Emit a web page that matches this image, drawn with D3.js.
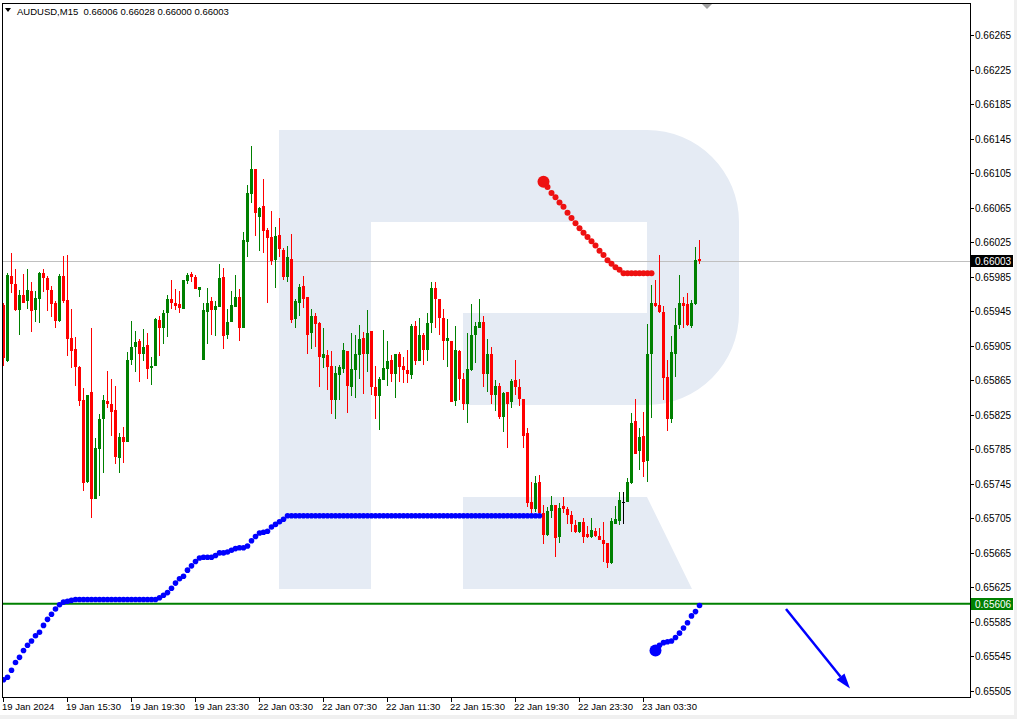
<!DOCTYPE html>
<html><head><meta charset="utf-8">
<script src="https://cdn.jsdelivr.net/npm/d3@7"></script>
<style>
body{margin:0;background:#fff;overflow:hidden}
svg text{font-family:"Liberation Sans",Arial,sans-serif}
</style>
</head><body>
<svg id="chart" width="1017" height="719"></svg>
<script>
// ---------- DATA ----------
const symbolTitle = "AUDUSD,M15";
const lastOHLC = [0.66006, 0.66028, 0.66000, 0.66003];
const timeLabels = ["19 Jan 2024","19 Jan 15:30","19 Jan 19:30","19 Jan 23:30","22 Jan 03:30","22 Jan 07:30","22 Jan 11:30","22 Jan 15:30","22 Jan 19:30","22 Jan 23:30","23 Jan 03:30"];
const timeLabelBars = [0,16,32,48,64,80,96,112,128,144,160];
const priceTicks = [0.65505,0.65545,0.65585,0.65625,0.65665,0.65705,0.65745,0.65785,0.65825,0.65865,0.65905,0.65945,0.65985,0.66025,0.66065,0.66105,0.66145,0.66185,0.66225,0.66265];

const opens = [0.65952,0.65887,0.65986,0.65976,0.65946,0.65964,0.65957,0.65968,0.65946,0.65959,
0.65989,0.65983,0.65969,0.65955,0.65934,0.65986,0.65958,0.65914,0.65901,0.65880,
0.65842,0.65747,0.65851,0.65728,0.65785,0.65820,0.65841,0.65838,0.65830,0.65775,
0.65799,0.65794,0.65888,0.65903,0.65910,0.65896,0.65906,0.65879,0.65881,0.65935,
0.65925,0.65943,0.65959,0.65954,0.65953,0.65947,0.65980,0.65988,0.65985,0.65969,
0.65889,0.65944,0.65957,0.65946,0.65950,0.65985,0.65917,0.65932,0.65950,0.65961,
0.65925,0.66025,0.66081,0.66110,0.66054,0.66067,0.66039,0.66031,0.66004,0.66033,
0.66016,0.65985,0.66006,0.65936,0.65955,0.65974,0.65961,0.65920,0.65939,0.65931,
0.65891,0.65894,0.65881,0.65842,0.65871,0.65878,0.65899,0.65857,0.65877,0.65894,
0.65914,0.65895,0.65922,0.65857,0.65847,0.65865,0.65878,0.65888,0.65872,0.65896,
0.65881,0.65877,0.65871,0.65928,0.65887,0.65917,0.65900,0.65931,0.65972,0.65959,
0.65937,0.65910,0.65911,0.65841,0.65899,0.65866,0.65838,0.65877,0.65918,0.65925,
0.65932,0.65872,0.65896,0.65848,0.65858,0.65823,0.65851,0.65840,0.65865,0.65857,
0.65843,0.65804,0.65724,0.65716,0.65747,0.65711,0.65686,0.65713,0.65720,0.65683,
0.65719,0.65716,0.65709,0.65697,0.65689,0.65701,0.65687,0.65683,0.65690,0.65684,
0.65680,0.65677,0.65653,0.65699,0.65702,0.65724,0.65724,0.65746,0.65818,0.65783,
0.65800,0.65771,0.65896,0.65955,0.65952,0.65944,0.65869,0.65820,0.65896,0.65929,
0.65954,0.65953,0.65928,0.65953,0.66006];
const highs = [0.65954,0.65989,0.66012,0.65994,0.65969,0.65988,0.65994,0.65979,0.65968,0.65990,
0.65994,0.65986,0.65974,0.65957,0.65988,0.66009,0.66010,0.65947,0.65915,0.65881,
0.65856,0.65848,0.65926,0.65798,0.65826,0.65848,0.65876,0.65866,0.65858,0.65804,
0.65811,0.65898,0.65934,0.65922,0.65913,0.65924,0.65920,0.65892,0.65937,0.65940,
0.65946,0.65964,0.65981,0.65971,0.65968,0.65981,0.65989,0.65990,0.65987,0.65973,
0.65955,0.65972,0.65961,0.65957,0.66000,0.65995,0.65947,0.65968,0.65987,0.65971,
0.66037,0.66091,0.66136,0.66110,0.66066,0.66098,0.66041,0.66061,0.66042,0.66053,
0.66018,0.66020,0.66034,0.65959,0.65977,0.65986,0.65961,0.65947,0.65943,0.65932,
0.65926,0.65900,0.65899,0.65881,0.65883,0.65908,0.65899,0.65920,0.65918,0.65929,
0.65921,0.65946,0.65922,0.65881,0.65869,0.65923,0.65911,0.65894,0.65895,0.65898,
0.65892,0.65900,0.65930,0.65934,0.65937,0.65920,0.65943,0.65979,0.65979,0.65959,
0.65947,0.65936,0.65911,0.65928,0.65900,0.65873,0.65920,0.65953,0.65932,0.65959,
0.65939,0.65913,0.65903,0.65865,0.65862,0.65851,0.65851,0.65867,0.65888,0.65867,
0.65843,0.65810,0.65747,0.65754,0.65755,0.65720,0.65718,0.65731,0.65720,0.65723,
0.65730,0.65718,0.65714,0.65703,0.65701,0.65706,0.65696,0.65705,0.65694,0.65694,
0.65701,0.65677,0.65705,0.65719,0.65735,0.65736,0.65752,0.65827,0.65843,0.65810,
0.65828,0.65930,0.65975,0.65981,0.66010,0.65951,0.65888,0.65916,0.65949,0.65987,
0.65961,0.65966,0.65958,0.66019,0.66028];
const lows = [0.65881,0.65886,0.65966,0.65945,0.65918,0.65954,0.65947,0.65921,0.65932,0.65931,
0.65967,0.65945,0.65938,0.65925,0.65932,0.65954,0.65893,0.65879,0.65858,0.65835,
0.65737,0.65746,0.65705,0.65727,0.65731,0.65757,0.65833,0.65800,0.65768,0.65757,
0.65769,0.65793,0.65883,0.65874,0.65863,0.65887,0.65867,0.65859,0.65881,0.65893,
0.65907,0.65915,0.65947,0.65946,0.65943,0.65947,0.65977,0.65979,0.65971,0.65961,
0.65889,0.65907,0.65918,0.65916,0.65950,0.65901,0.65913,0.65932,0.65950,0.65910,
0.65925,0.66008,0.66070,0.66032,0.66015,0.66012,0.65954,0.65999,0.65972,0.66008,
0.65981,0.65979,0.65931,0.65926,0.65940,0.65949,0.65896,0.65901,0.65904,0.65857,
0.65879,0.65854,0.65826,0.65820,0.65842,0.65873,0.65827,0.65847,0.65845,0.65866,
0.65849,0.65874,0.65848,0.65820,0.65807,0.65865,0.65858,0.65863,0.65845,0.65863,
0.65862,0.65862,0.65867,0.65883,0.65887,0.65883,0.65887,0.65920,0.65925,0.65917,
0.65889,0.65880,0.65840,0.65835,0.65842,0.65830,0.65816,0.65876,0.65885,0.65925,
0.65857,0.65851,0.65838,0.65829,0.65820,0.65805,0.65786,0.65833,0.65848,0.65835,
0.65786,0.65718,0.65711,0.65712,0.65709,0.65675,0.65684,0.65706,0.65660,0.65677,
0.65711,0.65699,0.65689,0.65688,0.65688,0.65677,0.65682,0.65682,0.65683,0.65680,
0.65655,0.65647,0.65652,0.65699,0.65697,0.65699,0.65724,0.65745,0.65779,0.65761,
0.65753,0.65747,0.65821,0.65950,0.65943,0.65842,0.65806,0.65815,0.65869,0.65924,
0.65926,0.65928,0.65926,0.65952,0.66000];
const closes = [0.65891,0.65987,0.65977,0.65946,0.65964,0.65955,0.65969,0.65945,0.65960,0.65989,
0.65983,0.65969,0.65953,0.65934,0.65986,0.65957,0.65913,0.65899,0.65880,0.65841,
0.65746,0.65848,0.65727,0.65786,0.65820,0.65842,0.65838,0.65828,0.65776,0.65799,
0.65794,0.65888,0.65904,0.65909,0.65895,0.65904,0.65878,0.65881,0.65936,0.65926,
0.65943,0.65959,0.65954,0.65951,0.65949,0.65981,0.65987,0.65985,0.65971,0.65973,
0.65946,0.65955,0.65946,0.65951,0.65983,0.65916,0.65932,0.65952,0.65962,0.65925,
0.66028,0.66082,0.66110,0.66059,0.66064,0.66038,0.66030,0.66003,0.66032,0.66017,
0.65985,0.66008,0.65935,0.65957,0.65973,0.65959,0.65917,0.65940,0.65930,0.65892,
0.65895,0.65880,0.65842,0.65873,0.65880,0.65900,0.65858,0.65878,0.65896,0.65913,
0.65895,0.65920,0.65857,0.65847,0.65867,0.65879,0.65887,0.65872,0.65895,0.65880,
0.65877,0.65872,0.65928,0.65887,0.65917,0.65900,0.65931,0.65972,0.65959,0.65937,
0.65910,0.65914,0.65840,0.65900,0.65866,0.65838,0.65878,0.65918,0.65928,0.65932,
0.65872,0.65896,0.65848,0.65858,0.65823,0.65850,0.65838,0.65864,0.65857,0.65843,
0.65801,0.65723,0.65716,0.65746,0.65711,0.65686,0.65713,0.65720,0.65682,0.65717,
0.65716,0.65709,0.65698,0.65689,0.65701,0.65683,0.65683,0.65691,0.65684,0.65680,
0.65675,0.65653,0.65702,0.65704,0.65726,0.65724,0.65747,0.65816,0.65780,0.65799,
0.65770,0.65896,0.65955,0.65951,0.65944,0.65868,0.65820,0.65898,0.65929,0.65954,
0.65951,0.65929,0.65954,0.66004,0.66003];

// red dotted indicator (starts at bar 135)
const redLineStart = 135;
const redLine = [0.66095,0.66089,0.66082,0.66077,0.66071,0.66066,0.66059,0.66053,0.66047,0.66041,
0.66036,0.66031,0.66026,0.66021,0.66015,0.66010,0.66004,0.66000,0.65996,0.65993,
0.65989,0.65989,0.65989,0.65989,0.65989,0.65989,0.65989,0.65989];

// blue dotted indicator (starts at bar 0)
const blueLineStart = 0;
const blueLine = [0.65518,0.65521,0.65529,0.65538,0.65544,0.65552,0.65558,0.65563,0.65569,0.65573,
0.65581,0.65588,0.65594,0.65600,0.65605,0.65608,0.65609,0.65610,0.65611,0.65611,
0.65611,0.65611,0.65611,0.65611,0.65611,0.65611,0.65611,0.65611,0.65611,0.65611,
0.65611,0.65611,0.65611,0.65611,0.65611,0.65611,0.65611,0.65611,0.65611,0.65613,
0.65616,0.65619,0.65624,0.65630,0.65635,0.65638,0.65645,0.65650,0.65655,0.65659,
0.65660,0.65660,0.65660,0.65662,0.65665,0.65665,0.65666,0.65668,0.65670,0.65671,
0.65671,0.65673,0.65679,0.65684,0.65688,0.65689,0.65690,0.65695,0.65698,0.65701,
0.65704,0.65708,0.65708,0.65708,0.65708,0.65708,0.65708,0.65708,0.65708,0.65708,
0.65708,0.65708,0.65708,0.65708,0.65708,0.65708,0.65708,0.65708,0.65708,0.65708,
0.65708,0.65708,0.65708,0.65708,0.65708,0.65708,0.65708,0.65708,0.65708,0.65708,
0.65708,0.65708,0.65708,0.65708,0.65708,0.65708,0.65708,0.65708,0.65708,0.65708,
0.65708,0.65708,0.65708,0.65708,0.65708,0.65708,0.65708,0.65708,0.65708,0.65708,
0.65708,0.65708,0.65708,0.65708,0.65708,0.65708,0.65708,0.65708,0.65708,0.65708,
0.65708,0.65708,0.65708,0.65708,0.65708];

// second blue dotted indicator (starts at bar 163)
const blue2Start = 163;
const blueLine2 = [0.65552,0.65558,0.65561,0.65562,0.65563,0.65567,0.65572,0.65578,0.65584,0.65592,0.65597,0.65604];

const bidPrice = 0.66003;
const levelPrice = 0.65606;
// forecast arrow: [bar position, price]
const arrowFrom = [195.75, 0.65600];
const arrowTo = [211.75, 0.65508];

// ---------- LAYOUT ----------
const W = 1017, H = 719;
const plot = {left: 2, top: 3, right: 970, bottom: 697};
const svg = d3.select("#chart");

const x = d3.scaleLinear().domain([0, 174]).range([3, 699]);
const y = d3.scaleLinear().domain([0.65505, 0.66265]).range([691, 35]);

// window edges
svg.append("rect").attr("x",0).attr("y",715).attr("width",W).attr("height",4).attr("fill","#f0f0f0");
svg.append("rect").attr("x",1014).attr("y",0).attr("width",3).attr("height",H).attr("fill","#f0f0f0");

svg.append("clipPath").attr("id","clip").append("rect")
  .attr("x",plot.left).attr("y",plot.top).attr("width",plot.right-plot.left).attr("height",plot.bottom-plot.top);
const g = svg.append("g").attr("clip-path","url(#clip)");

// watermark logo
const logo = "M279,130 H647 A92,92 0 0 1 739,222 V313 A92,92 0 0 1 647,405 H463 V313 H647 V222 H371 V589 H279 Z " +
             "M463,497 H647 L692,589 H463 Z";
g.append("path").attr("d", logo).attr("fill","#e5ebf4");

// bid line
g.append("line").attr("x1",plot.left).attr("x2",plot.right)
  .attr("y1",Math.round(y(bidPrice))+0.5).attr("y2",Math.round(y(bidPrice))+0.5)
  .attr("stroke","#c0c0c0").attr("stroke-width",1);

// candles
const bars = d3.range(opens.length).map(i => ({i, o:opens[i], h:highs[i], l:lows[i], c:closes[i]}));
const col = d => d.c > d.o ? "#008000" : (d.c < d.o ? "#ff0000" : "#000000");
const cg = g.append("g").attr("shape-rendering","crispEdges");
cg.selectAll("rect.w").data(bars).join("rect").attr("class","w")
  .attr("x", d => Math.round(x(d.i)))
  .attr("width",1)
  .attr("y", d => Math.round(y(d.h)))
  .attr("height", d => Math.max(1, Math.round(y(d.l)) - Math.round(y(d.h))))
  .attr("fill", col);
cg.selectAll("rect.b").data(bars).join("rect").attr("class","b")
  .attr("x", d => Math.round(x(d.i)) - 1)
  .attr("width", d => d.c === d.o ? 3 : 3)
  .attr("y", d => Math.round(y(Math.max(d.o, d.c))))
  .attr("height", d => Math.max(1, Math.round(y(Math.min(d.o, d.c))) - Math.round(y(Math.max(d.o, d.c)))))
  .attr("fill", col);

// level line
g.append("line").attr("x1",plot.left).attr("x2",plot.right)
  .attr("y1",y(levelPrice)).attr("y2",y(levelPrice))
  .attr("stroke","#008000").attr("stroke-width",2);

// dotted indicators
function dots(arr, start, color, r, bigR){
  const data = arr.map((v,k) => ({i:start+k, v, k}));
  g.append("g").selectAll("circle").data(data).join("circle")
    .attr("cx", d => x(d.i) + 0.5).attr("cy", d => y(d.v))
    .attr("r", d => d.k === 0 ? bigR : r)
    .attr("fill", color);
}
dots(blueLine, blueLineStart, "#0000ff", 2.8, 2.8);
dots(redLine, redLineStart, "#ee1111", 3, 6);
dots(blueLine2, blue2Start, "#0000ff", 2.8, 6);

// arrow
const ax1 = x(arrowFrom[0]), ay1 = y(arrowFrom[1]), ax2 = x(arrowTo[0]), ay2 = y(arrowTo[1]);
const ang = Math.atan2(ay2-ay1, ax2-ax1);
const hl = 15, hw = 5;
const bx = ax2 - hl*Math.cos(ang), by = ay2 - hl*Math.sin(ang);
g.append("line").attr("x1",ax1).attr("y1",ay1).attr("x2",bx).attr("y2",by)
  .attr("stroke","#0000ff").attr("stroke-width",2.5);
g.append("path")
  .attr("d", `M${ax2},${ay2} L${bx - hw*Math.sin(ang)},${by + hw*Math.cos(ang)} L${bx + hw*Math.sin(ang)},${by - hw*Math.cos(ang)} Z`)
  .attr("fill","#0000ff");

// frame
svg.append("rect").attr("x",plot.left+0.5).attr("y",plot.top+0.5)
  .attr("width",plot.right-plot.left).attr("height",plot.bottom-plot.top)
  .attr("fill","none").attr("stroke","#000").attr("stroke-width",1).attr("shape-rendering","crispEdges");

// shift marker
svg.append("path").attr("d","M702,4 L712,4 L707,9 Z").attr("fill","#a0a0a0");

// price axis
const pa = svg.append("g");
priceTicks.forEach(p => {
  const yy = Math.round(y(p)) + 0.5;
  pa.append("line").attr("x1",plot.right+0.5).attr("x2",plot.right+4).attr("y1",yy).attr("y2",yy)
    .attr("stroke","#000").attr("shape-rendering","crispEdges");
  pa.append("text").attr("x",975).attr("y",yy).attr("dy","0.35em")
    .attr("font-size","10px").attr("fill","#000").text(p.toFixed(5));
});
function priceBox(p, fill){
  const yy = Math.round(y(p));
  pa.append("rect").attr("x",971).attr("y",yy-6).attr("width",42).attr("height",12).attr("fill",fill);
  pa.append("text").attr("x",975).attr("y",yy+0.5).attr("dy","0.35em")
    .attr("font-size","10px").attr("fill","#fff").text(p.toFixed(5));
}
priceBox(bidPrice, "#000");
priceBox(levelPrice, "#008000");

// time axis
const ta = svg.append("g");
timeLabelBars.forEach((b, k) => {
  const xx = Math.round(x(b)) + 0.5;
  ta.append("line").attr("x1",xx).attr("x2",xx).attr("y1",plot.bottom+0.5).attr("y2",plot.bottom+5)
    .attr("stroke","#000").attr("shape-rendering","crispEdges");
  ta.append("text").attr("x",xx-1.5).attr("y",710).attr("font-size","9.5px").attr("fill","#000").text(timeLabels[k]);
});

// title
svg.append("path").attr("d","M5,8 L11,8 L8,12 Z").attr("fill","#000");
svg.append("text").attr("x",17).attr("y",15).attr("font-size","9.5px").attr("fill","#000")
  .attr("xml:space","preserve")
  .text(symbolTitle + "  " + lastOHLC.map(v => v.toFixed(5)).join(" "));
</script>
</body></html>
